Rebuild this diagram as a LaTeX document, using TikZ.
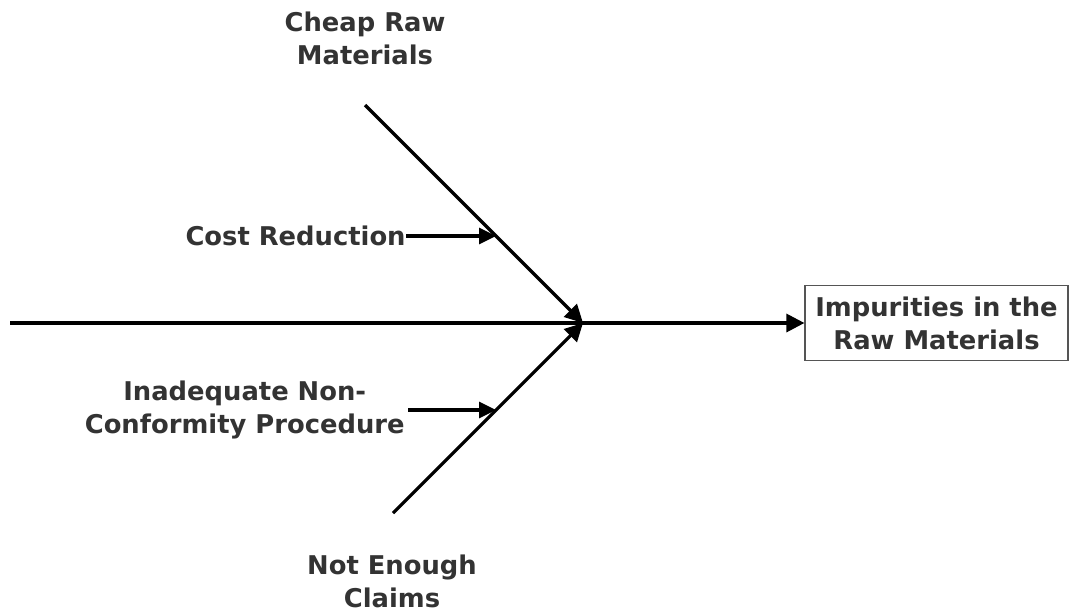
\documentclass[tikz,border=0pt]{standalone}
\usepackage{fontspec}
\setmainfont{DejaVu Sans}
\usepackage{tikz}
\usetikzlibrary{arrows.meta}
\definecolor{fbtext}{HTML}{333333}
\definecolor{fbframe}{HTML}{555555}

\tikzset{
  bone/.style={line width=1.6pt, -{Triangle[length=9pt, width=9pt]}},
  causearrow/.style={line width=1.6pt, -{Triangle[length=8.5pt, width=8pt]}},
  causelabel/.style={font=\bfseries\fontsize{12.9}{16.5}\selectfont, text=fbtext,
                     align=center, inner sep=0pt},
  effectbox/.style={draw=fbframe, line width=0.6pt, fill=white, align=center,
                    minimum width=131.5pt, minimum height=37.5pt, inner sep=0pt,
                    font=\bfseries\fontsize{12.9}{16.5}\selectfont, text=fbtext}
}

\begin{document}
\begin{tikzpicture}[x=0.5pt, y=0.5pt]

  \useasboundingbox (0,0) rectangle (1069,612);

  % -- head of the fish and the spine ------------------------------------
  \node[effectbox] (effect) at (936.5,289) {Impurities in the\\Raw Materials};
  \coordinate (tail)  at (10,289);
  \coordinate (joint) at (583,289);
  \draw[bone] (tail) -- (effect.west);

  % -- the two main bones, both ending on the joint ----------------------
  \coordinate (upperEnd) at (365,507);
  \coordinate (lowerEnd) at (393,99);
  \draw[bone] (upperEnd) -- (joint);
  \draw[bone] (lowerEnd) -- (joint);

  \node[causelabel] (cheap)  at (365,574) {Cheap Raw\\Materials};
  \node[causelabel] (claims) at (392,31)  {Not Enough\\Claims};

  % -- the small causes, pointing onto the bones -------------------------
  \coordinate (upperHit) at (496,376);
  \coordinate (lowerHit) at (496,202);
  \node[causelabel, anchor=east] (cost) at (406,376) {Cost Reduction};
  \node[causelabel, anchor=east] (procedure) at (405,202)
       {Inadequate Non-\\Conformity Procedure};
  \draw[causearrow] (cost.east) -- (upperHit);
  \draw[causearrow] (procedure.east |- lowerHit) ++(3,0) -- (lowerHit);

\end{tikzpicture}
\end{document}
